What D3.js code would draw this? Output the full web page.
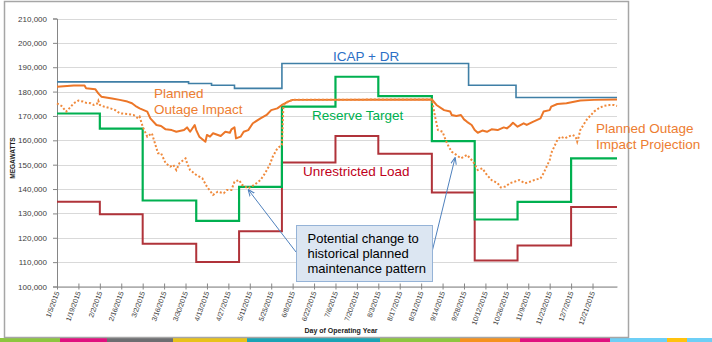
<!DOCTYPE html>
<html><head><meta charset="utf-8">
<script src="https://cdn.jsdelivr.net/npm/d3@7"></script>
<style>
html,body{margin:0;padding:0;background:#fff;}
svg{display:block;font-family:"Liberation Sans",Arial,sans-serif;}
</style></head>
<body>
<svg id="chart" width="712" height="342"></svg>
<script>
// ---------------- data ----------------
const startDay = "2015-01-05";
const endDay = "2016-01-06";
const xTickLabels = ["1/5/2015","1/19/2015","2/2/2015","2/16/2015","3/2/2015","3/16/2015","3/30/2015","4/13/2015","4/27/2015","5/11/2015","5/25/2015","6/8/2015","6/22/2015","7/6/2015","7/20/2015","8/3/2015","8/17/2015","8/31/2015","9/14/2015","9/28/2015","10/12/2015","10/26/2015","11/9/2015","11/23/2015","12/7/2015","12/21/2015"];
const yTicks = [100000,110000,120000,130000,140000,150000,160000,170000,180000,190000,200000,210000];

const stepDates = ["2015-01-05","2015-02-02","2015-03-02","2015-04-06","2015-05-04","2015-06-01","2015-07-06","2015-08-03","2015-09-07","2015-10-05","2015-11-02","2015-12-07"];
const reserveTarget    = [171000,164800,135300,126900,140900,173800,186100,178100,159700,127500,134700,152600];
const unrestrictedLoad = [134800,129700,117500,110100,122700,150900,161800,154500,138600,110700,116800,132600];

const icapDates  = ["2015-01-05","2015-04-01","2015-04-16","2015-05-01","2015-06-01","2015-10-01","2015-11-01"];
const icapValues = [184000,183300,182600,181300,191500,182600,177600];

// Planned Outage Impact (day of operating year, MW)
const impactDays   = [0,11,18,19,25,27,29,36,41,46,49,52,54,59,61,65,68,71,75,78,83,85,87,90,91,93,97,98,100,102,107,110,113,114,116,117,120,122,125,128,133,137,140,144,147,149,151,154,245,248,253,257,258,261,264,266,268,271,273,275,278,281,284,288,292,294,296,298,301,305,307,311,316,318,322,323,327,333,342,351,366];
const impactValues = [182000,182500,182500,181400,181000,179300,177900,177200,176600,175900,175200,173800,173100,171800,169000,166300,165900,164500,164200,163500,164200,165300,163500,166300,164200,161500,159400,162200,161500,162900,161800,163500,163100,164500,165300,160800,161500,163500,164200,167000,169000,170400,172400,173100,174500,175200,175900,176600,176800,174500,172400,171800,170400,170000,170400,168600,167600,166300,164200,163100,164000,163500,164500,164200,165300,164900,165900,167200,165600,167000,166300,167600,169000,171800,172400,173800,174900,175200,176300,176600,176800];

// Planned Outage Impact Projection (dotted)
const projDays   = [0,3,6,8,11,14,17,19,22,24,26,27,28,31,35,38,41,46,50,53,54,56,59,62,64,66,68,71,74,76,78,80,84,85,87,91,95,98,102,105,109,111,114,116,119,121,125,129,133,136,139,141,144,147,148,151,154,245,247,249,252,254,256,258,261,264,266,268,270,272,275,278,281,284,288,290,293,296,299,302,304,306,309,312,316,318,320,322,323,325,327,329,332,334,337,339,340,341,342,344,346,349,351,354,357,361,364,366];
const projValues = [175200,174100,171800,173100,175200,176300,175900,175400,175200,174500,174900,176300,174500,173800,173100,172400,171100,170800,170400,169000,169700,165600,161500,162900,158800,154700,154700,150600,149200,149900,147800,150600,152600,150600,147800,145800,144400,141000,137600,138900,138300,139600,139600,143000,143700,141700,140300,141700,143700,146500,149900,153300,156700,158100,174500,175900,176600,176800,170000,164200,163500,160100,157400,155300,154000,152600,153300,154000,152600,151200,147800,148500,145800,143700,142400,140700,141000,142400,143000,143700,143000,142400,143000,143700,144400,146500,149200,151900,154700,157400,160100,161500,160800,161500,162200,161500,159400,161500,164200,166300,168300,170400,171800,173100,174100,174500,174500,174100];

// ---------------- chart ----------------
const svg = d3.select("#chart");
const parse = d3.timeParse("%Y-%m-%d");
const parseTick = d3.timeParse("%-m/%-d/%Y");
const t0 = parse(startDay), t1 = parse(endDay);
const x = d3.scaleTime().domain([t0, t1]).range([57, 617]);
const y = d3.scaleLinear().domain([100000, 210000]).range([286.5, 18.5]);

// bottom colour strip
const strip = [["#8dc63f",0,60],["#e0107f",60,107],["#6d6e71",107,173],["#e8c21a",173,247],["#1aa3b5",247,380],["#8dc63f",380,460],["#f5921e",460,520],["#e0107f",520,610],["#6dcff6",610,667],["#ffc20e",667,687],["#6dcff6",687,712]];
svg.selectAll("rect.strip").data(strip).join("rect").attr("class","strip")
  .attr("x",d=>d[1]).attr("width",d=>d[2]-d[1]).attr("y",338).attr("height",4).attr("fill",d=>d[0]);

// frame
svg.append("rect").attr("x",4.5).attr("y",1.5).attr("width",624).attr("height",336)
  .attr("fill","#fff").attr("stroke","#a6a6a6").attr("stroke-width",1.5);

// gridlines
svg.append("g").selectAll("line").data(yTicks).join("line")
  .attr("x1",57).attr("x2",617).attr("y1",d=>Math.round(y(d))+0.5).attr("y2",d=>Math.round(y(d))+0.5)
  .attr("stroke","#d9d9d9").attr("stroke-width",1);

// y axis
const yAxis = d3.axisLeft(y).tickValues(yTicks).tickFormat(d3.format(",")).tickSize(4).tickPadding(6);
const gy = svg.append("g").attr("transform","translate(57,0)").call(yAxis);
gy.select(".domain").attr("stroke","#868686");
gy.selectAll(".tick line").attr("stroke","#868686");
gy.selectAll(".tick text").attr("font-size","8px").attr("fill","#404040")
  .attr("font-family","'Liberation Sans',Arial,sans-serif");

// x axis
const xTicks = xTickLabels.map(s=>parseTick(s));
const xAxis = d3.axisBottom(x).tickValues(xTicks).tickFormat(d3.timeFormat("%-m/%-d/%Y")).tickSize(3).tickSizeOuter(0);
const gx = svg.append("g").attr("transform","translate(0,286.5)").call(xAxis);
gx.select(".domain").attr("stroke","#868686");
gx.selectAll(".tick line").attr("stroke","#868686").attr("y1",-3);
gx.selectAll(".tick text").attr("font-size","7px").attr("fill","#404040")
  .attr("text-anchor","end").attr("dy",null).attr("y",0)
  .attr("transform","translate(2,6) rotate(-70)");

// axis titles
svg.append("text").attr("transform","translate(15,158) rotate(-90)").attr("text-anchor","middle")
  .attr("font-size","6.5px").attr("font-weight","bold").attr("fill","#222").text("MEGAWATTS");
svg.append("text").attr("x",341).attr("y",333).attr("text-anchor","middle")
  .attr("font-size","7px").attr("font-weight","bold").attr("fill","#222").text("Day of Operating Year");

// series helpers
function stepData(dates, vals){
  const pts = dates.map((d,i)=>({t:parse(d), v:vals[i]}));
  pts.push({t:t1, v:vals[vals.length-1]});
  return pts;
}
function dayData(days, vals){
  return days.map((d,i)=>({t:d3.timeDay.offset(t0, d), v:vals[i]}));
}
const stepLine = d3.line().x(d=>x(d.t)).y(d=>y(d.v)).curve(d3.curveStepAfter);
const line = d3.line().x(d=>x(d.t)).y(d=>y(d.v));

svg.append("path").datum(stepData(stepDates, unrestrictedLoad)).attr("d",stepLine)
  .attr("fill","none").attr("stroke","#b0333a").attr("stroke-width",2);
svg.append("path").datum(stepData(stepDates, reserveTarget)).attr("d",stepLine)
  .attr("fill","none").attr("stroke","#00b050").attr("stroke-width",2.2);
svg.append("path").datum(stepData(icapDates, icapValues)).attr("d",stepLine)
  .attr("fill","none").attr("stroke","#3f7fa6").attr("stroke-width",1.6);
svg.append("path").datum(dayData(impactDays, impactValues)).attr("d",line)
  .attr("fill","none").attr("stroke","#ec7628").attr("stroke-width",2).attr("stroke-linejoin","round");
svg.append("path").datum(dayData(projDays, projValues)).attr("d",line)
  .attr("fill","none").attr("stroke","#f08a3c").attr("stroke-width",2).attr("stroke-dasharray","2,2");

// labels
const labels = [
  {t:"ICAP + DR", x:333, y:61, c:"#2b6fc6"},
  {t:"Planned", x:154, y:98, c:"#ed7d31"},
  {t:"Outage Impact", x:154, y:114, c:"#ed7d31"},
  {t:"Reserve Target", x:312, y:120, c:"#00b050"},
  {t:"Unrestricted Load", x:303, y:176, c:"#c0001a"},
  {t:"Planned Outage", x:596, y:133, c:"#ed7d31"},
  {t:"Impact Projection", x:596, y:149, c:"#ed7d31"}
];
svg.append("g").selectAll("text").data(labels).join("text")
  .attr("x",d=>d.x).attr("y",d=>d.y).attr("fill",d=>d.c).attr("font-size","13.5px").text(d=>d.t);

// annotation arrows
const defs = svg.append("defs");
defs.append("marker").attr("id","ah").attr("viewBox","0 0 10 10").attr("refX",9).attr("refY",5)
  .attr("markerWidth",7).attr("markerHeight",7).attr("orient","auto")
  .append("path").attr("d","M0,1 L10,5 L0,9").attr("fill","none").attr("stroke","#4f81bd").attr("stroke-width",1.5);
svg.append("line").attr("x1",296).attr("y1",252).attr("x2",248.5).attr("y2",190)
  .attr("stroke","#4f81bd").attr("stroke-width",1).attr("marker-end","url(#ah)");
svg.append("line").attr("x1",432.5).attr("y1",250).attr("x2",455).attr("y2",158)
  .attr("stroke","#4f81bd").attr("stroke-width",1).attr("marker-end","url(#ah)");

// annotation box
svg.append("rect").attr("x",296.5).attr("y",225.5).attr("width",136).attr("height",56)
  .attr("fill","#dce6f2").attr("stroke","#95b3d7").attr("stroke-width",1);
const note = ["Potential change to","historical planned","maintenance pattern"];
svg.append("g").selectAll("text").data(note).join("text")
  .attr("x",307.5).attr("y",(d,i)=>243+i*15).attr("font-size","13px").attr("fill","#000").text(d=>d);
</script>
</body></html>
